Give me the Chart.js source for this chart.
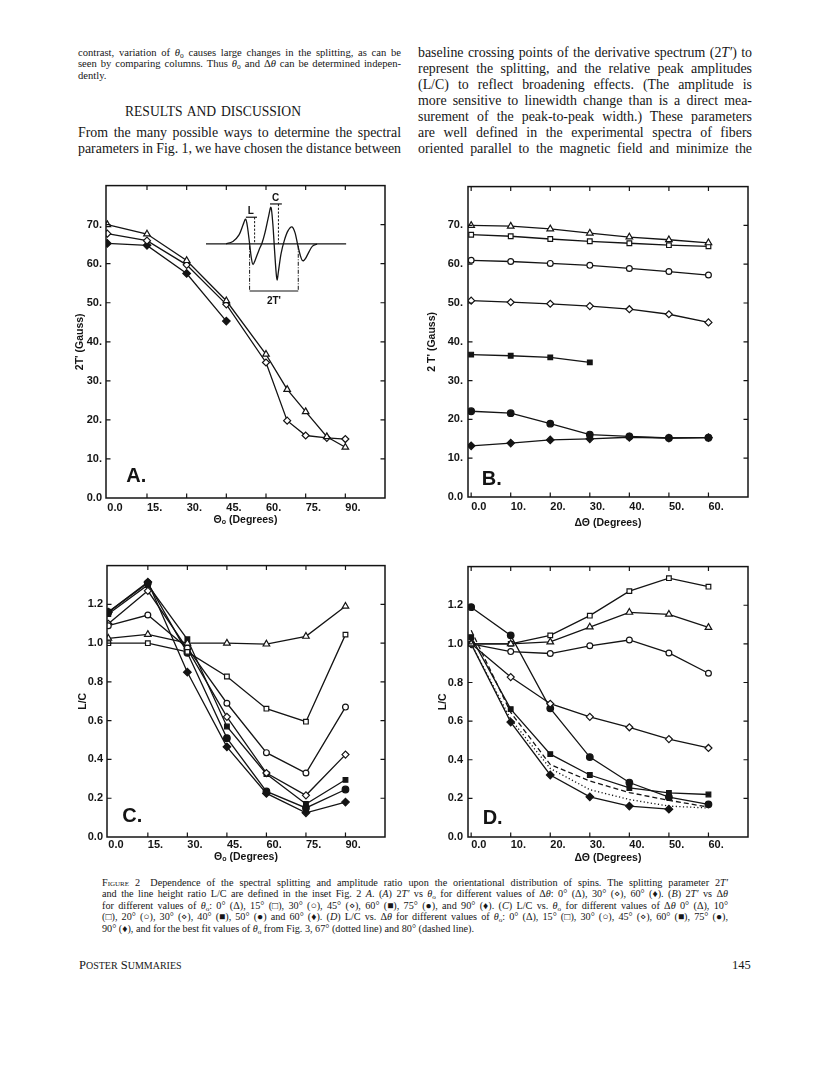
<!DOCTYPE html>
<html><head><meta charset="utf-8">
<script src="https://cdn.jsdelivr.net/npm/chart.js@4.4.1/dist/chart.umd.min.js"></script>
<style>
html,body{margin:0;padding:0;background:#fff}
body{width:816px;height:1070px;position:relative;overflow:hidden;color:#161616;font-family:"Liberation Serif","Times New Roman",serif}
.t{position:absolute;white-space:nowrap;line-height:1}
.t sub{font-size:0.7em;vertical-align:-0.25em;line-height:0}
canvas{position:absolute}
</style></head><body>

<!-- top text -->
<div class="t j" data-w="323" style="left:78px;top:47.5px;font-size:10.6px">contrast, variation of <i>θ</i><sub>o</sub> causes large changes in the splitting, as can be</div>
<div class="t j" data-w="323" style="left:78px;top:59.3px;font-size:10.6px">seen by comparing columns. Thus <i>θ</i><sub>o</sub> and Δ<i>θ</i> can be determined indepen-</div>
<div class="t" style="left:78px;top:71.1px;font-size:10.6px">dently.</div>
<div class="t j" data-w="176" style="left:125px;top:104.5px;font-size:13.6px">RESULTS AND DISCUSSION</div>
<div class="t j" data-w="323" style="left:78px;top:125.8px;font-size:13.9px">From the many possible ways to determine the spectral</div>
<div class="t j" data-w="323" style="left:78px;top:141.9px;font-size:13.9px">parameters in Fig. 1, we have chosen the distance between</div>

<div class="t j" data-w="334" style="left:418px;top:45.6px;font-size:13.9px">baseline crossing points of the derivative spectrum (2<i>T′</i>) to</div>
<div class="t j" data-w="334" style="left:418px;top:61.7px;font-size:13.9px">represent the splitting, and the relative peak amplitudes</div>
<div class="t j" data-w="334" style="left:418px;top:77.8px;font-size:13.9px">(L/C) to reflect broadening effects. (The amplitude is</div>
<div class="t j" data-w="334" style="left:418px;top:93.9px;font-size:13.9px">more sensitive to linewidth change than is a direct mea-</div>
<div class="t j" data-w="334" style="left:418px;top:110.0px;font-size:13.9px">surement of the peak-to-peak width.) These parameters</div>
<div class="t j" data-w="334" style="left:418px;top:126.1px;font-size:13.9px">are well defined in the experimental spectra of fibers</div>
<div class="t j" data-w="334" style="left:418px;top:142.2px;font-size:13.9px">oriented parallel to the magnetic field and minimize the</div>

<canvas id="cA"></canvas>
<canvas id="cB"></canvas>
<canvas id="cC"></canvas>
<canvas id="cD"></canvas>

<!-- caption -->
<div class="t j" data-w="626" style="left:102px;top:877.5px;font-size:10.2px"><span style="font-variant:small-caps">Figure 2</span>&emsp;Dependence of the spectral splitting and amplitude ratio upon the orientational distribution of spins. The splitting parameter 2<i>T′</i></div>
<div class="t j" data-w="626" style="left:102px;top:889px;font-size:10.2px">and the line height ratio L/C are defined in the inset Fig. 2 <i>A</i>. (<i>A</i>) 2<i>T′</i> vs <i>θ</i><sub>o</sub> for different values of Δ<i>θ</i>: 0° (Δ), 30° (⋄), 60° (♦). (<i>B</i>) 2<i>T′</i> vs Δ<i>θ</i></div>
<div class="t j" data-w="626" style="left:102px;top:900.5px;font-size:10.2px">for different values of <i>θ</i><sub>o</sub>: 0° (Δ), 15° (□), 30° (○), 45° (⋄), 60° (■), 75° (●), and 90° (♦). (<i>C</i>) L/C vs. <i>θ</i><sub>o</sub> for different values of Δ<i>θ</i> 0° (Δ), 10°</div>
<div class="t j" data-w="626" style="left:102px;top:912px;font-size:10.2px">(□), 20° (○), 30° (⋄), 40° (■), 50° (●) and 60° (♦). (<i>D</i>) L/C vs. Δ<i>θ</i> for different values of <i>θ</i><sub>o</sub>: 0° (Δ), 15° (□), 30° (○), 45° (⋄), 60° (■), 75° (●),</div>
<div class="t" style="left:102px;top:923.5px;font-size:10.2px">90° (♦), and for the best fit values of <i>θ</i><sub>o</sub> from Fig. 3, 67° (dotted line) and 80° (dashed line).</div>

<div class="t" style="left:79px;top:959px;font-size:12.5px">P<span style="font-size:10px">OSTER</span> S<span style="font-size:10px">UMMARIES</span></div>
<div class="t" style="left:732px;top:959px;font-size:12.5px">145</div>

<script>
// ---------------- DATA ----------------
// Panel A: 2T' vs theta0, for delta-theta = 0, 30, 60 deg
const thetaA = [0, 15, 30, 45, 60, 68, 75, 83, 90];
const A_dth0 = [70.0, 67.6, 60.8, 50.5, 36.8, 27.8, 22.1, 15.7, 13.0];
const A_dth30 = [67.7, 65.9, 59.7, 49.6, 34.7, 19.8, 16.0, 15.4, 15.1];
const thetaA60 = [0, 15, 30, 45];
const A_dth60 = [65.2, 64.7, 57.5, 45.3];

// Panel B: 2T' vs delta-theta, for theta0 = 0..90
const dthB = [0, 10, 20, 30, 40, 50, 60];
const dthB60 = [0, 10, 20, 30];
const B_th0 = [70.0, 69.8, 69.1, 68.0, 67.0, 66.3, 65.5];
const B_th15 = [67.6, 67.2, 66.5, 65.9, 65.4, 64.9, 64.6];
const B_th30 = [61.0, 60.7, 60.2, 59.7, 58.9, 58.1, 57.2];
const B_th45 = [50.6, 50.2, 49.8, 49.2, 48.4, 47.1, 45.0];
const B_th60 = [36.7, 36.4, 36.0, 34.7];
const B_th75 = [22.1, 21.6, 18.9, 16.1, 15.6, 15.2, 15.3];
const B_th90 = [13.2, 13.9, 14.7, 15.0, 15.4, 15.2, 15.3];

// Panel C: L/C vs theta0, for delta-theta = 0..60
const thetaC = [0, 15, 30, 45, 60, 75, 90];
const C_dth0 = [1.025, 1.045, 1.0, 1.0, 0.995, 1.035, 1.19];
const C_dth10 = [1.0, 1.0, 0.955, 0.828, 0.662, 0.595, 1.044];
const C_dth20 = [1.09, 1.145, 0.975, 0.69, 0.435, 0.33, 0.67];
const C_dth30 = [1.10, 1.27, 0.97, 0.62, 0.33, 0.215, 0.425];
const C_dth40 = [1.15, 1.30, 1.02, 0.57, 0.325, 0.17, 0.295];
const C_dth50 = [1.16, 1.31, 0.95, 0.51, 0.235, 0.15, 0.245];
const C_dth60 = [1.16, 1.315, 0.85, 0.465, 0.225, 0.125, 0.18];

// Panel D: L/C vs delta-theta, for theta0 = 0..90 and best fits 67 (dotted), 80 (dashed)
const dthD = [0, 10, 20, 30, 40, 50, 60];
const dthD90 = [0, 10, 20, 30, 40, 50];
const D_th0 = [1.0, 1.0, 1.01, 1.087, 1.163, 1.153, 1.085];
const D_th15 = [1.0, 1.0, 1.044, 1.146, 1.273, 1.34, 1.296];
const D_th30 = [1.0, 0.96, 0.95, 0.99, 1.02, 0.953, 0.848];
const D_th45 = [1.0, 0.828, 0.69, 0.622, 0.568, 0.507, 0.461];
const D_th60 = [1.035, 0.662, 0.429, 0.321, 0.254, 0.228, 0.22];
const D_th75 = [1.19, 1.044, 0.666, 0.414, 0.282, 0.206, 0.169];
const D_th90 = [1.0, 0.595, 0.321, 0.208, 0.16, 0.144];
const D_fit67 = [1.0, 0.61, 0.355, 0.245, 0.194, 0.16, 0.15];
const D_fit80 = [1.07, 0.645, 0.375, 0.29, 0.23, 0.19, 0.155];

// Tick values and labels
const thetaTicks = [0, 15, 30, 45, 60, 75, 90];
const thetaLabels = ['0.0', '15.', '30.', '45.', '60.', '75.', '90.'];
const dthTicks = [0, 10, 20, 30, 40, 50, 60];
const dthLabels = ['0.0', '10.', '20.', '30.', '40.', '50.', '60.'];
const gaussTicks = [0, 10, 20, 30, 40, 50, 60, 70];
const gaussLabels = ['0.0', '10.', '20.', '30.', '40.', '50.', '60.', '70.'];
const lcTicks = [0, 0.2, 0.4, 0.6, 0.8, 1.0, 1.2];
const lcLabels = ['0.0', '0.2', '0.4', '0.6', '0.8', '1.0', '1.2'];

// Inset of panel A: schematic derivative spectrum, in the panel's own (theta, gauss) units
const insetX = [44.9, 47.5, 49.8, 51.3, 52.3, 53.0, 53.8, 54.5, 55.1, 56.0, 57.4, 58.5, 59.6, 61.0, 61.9, 62.6, 63.2, 63.8, 64.2, 64.7, 65.7, 67.0, 68.3, 69.8, 71.0, 71.9, 72.9, 73.8, 74.9, 76.3, 77.6, 79.3];
const insetY = [65.1, 65.7, 67.4, 69.9, 71.4, 69.4, 65.1, 61.3, 59.8, 61.1, 63.6, 65.3, 67.9, 72.2, 74.4, 70.1, 63.8, 58.0, 55.8, 58.0, 62.6, 66.1, 68.4, 69.4, 67.9, 65.1, 62.3, 60.8, 61.3, 63.1, 64.5, 65.0];

// ---------------- STYLE ----------------
const INK = '#141414';
const SANS = '"Liberation Sans", Arial, sans-serif';
Chart.defaults.font.family = SANS;
Chart.defaults.color = INK;
const MK = {
  triO: {s: 'triangle', r: 3.8, f: false},
  sqO: {s: 'rect', r: 3.3, f: false},
  ciO: {s: 'circle', r: 2.9, f: false},
  diO: {s: 'rectRot', r: 3.5, f: false},
  sqF: {s: 'rect', r: 3.3, f: true},
  ciF: {s: 'circle', r: 3.3, f: true},
  diF: {s: 'rectRot', r: 3.8, f: true}
};
function series(xs, ys, mk, dash) {
  const m = mk ? MK[mk] : null;
  return {
    data: xs.map((x, i) => ({x: x, y: ys[i]})),
    borderColor: INK, borderWidth: 1.3, borderDash: dash || [],
    pointStyle: m ? m.s : false, pointRadius: m ? m.r : 0, pointHoverRadius: 0,
    pointBorderWidth: 1.2, pointBorderColor: INK,
    pointBackgroundColor: m && m.f ? INK : '#fff',
    tension: 0, fill: false
  };
}

const frame = {
  id: 'frame',
  afterDraw(chart, args, opt) {
    const {ctx, chartArea: a, scales: {x, y}} = chart;
    const len = 4.5;
    ctx.save();
    ctx.strokeStyle = INK; ctx.lineWidth = 1.5;
    ctx.strokeRect(a.left, a.top, a.right - a.left, a.bottom - a.top);
    ctx.lineWidth = 1.2;
    ctx.beginPath();
    x.ticks.forEach(t => {
      const px = x.getPixelForValue(t.value);
      if (px <= a.left + 2 || px >= a.right - 2) return;
      ctx.moveTo(px, a.bottom); ctx.lineTo(px, a.bottom - len);
      ctx.moveTo(px, a.top); ctx.lineTo(px, a.top + len);
    });
    y.ticks.forEach(t => {
      const py = y.getPixelForValue(t.value);
      if (py <= a.top + 2 || py >= a.bottom - 2) return;
      ctx.moveTo(a.left, py); ctx.lineTo(a.left + len, py);
      ctx.moveTo(a.right, py); ctx.lineTo(a.right - len, py);
    });
    ctx.stroke();
    // panel letter
    if (opt && opt.letter) {
      ctx.fillStyle = INK; ctx.font = 'bold 20px ' + SANS;
      ctx.textAlign = 'left'; ctx.textBaseline = 'alphabetic';
      ctx.fillText(opt.letter, x.getPixelForValue(opt.lx), y.getPixelForValue(opt.ly));
    }
    ctx.restore();
  }
};

const insetPlugin = {
  id: 'inset',
  afterDatasetsDraw(chart) {
    const {ctx, scales: {x, y}} = chart;
    const X = v => x.getPixelForValue(v), Y = v => y.getPixelForValue(v);
    const pts = insetX.map((v, i) => [X(v), Y(insetY[i])]);
    ctx.save();
    ctx.strokeStyle = INK; ctx.fillStyle = INK; ctx.lineWidth = 1.3;
    const base = Y(65.1);
    ctx.beginPath(); ctx.moveTo(X(37.3), base); ctx.lineTo(X(90.3), base); ctx.stroke();
    ctx.beginPath(); ctx.moveTo(pts[0][0], pts[0][1]);
    for (let i = 0; i < pts.length - 1; i++) {
      const p0 = pts[Math.max(0, i - 1)], p1 = pts[i], p2 = pts[i + 1], p3 = pts[Math.min(pts.length - 1, i + 2)];
      ctx.bezierCurveTo(p1[0] + (p2[0] - p0[0]) / 6, p1[1] + (p2[1] - p0[1]) / 6,
                        p2[0] - (p3[0] - p1[0]) / 6, p2[1] - (p3[1] - p1[1]) / 6, p2[0], p2[1]);
    }
    ctx.stroke();
    const line = (x1, y1, x2, y2, dash, w) => { ctx.setLineDash(dash || []); ctx.lineWidth = w || 1.2; ctx.beginPath(); ctx.moveTo(x1, y1); ctx.lineTo(x2, y2); ctx.stroke(); };
    const lBar = Y(71.9), cBar = Y(75.3), brk = Y(53.0);
    line(X(52.4), lBar, X(56.6), lBar);
    line(X(55.7), lBar, X(55.7), base, [2.2, 1.6], 1);
    line(X(61.5), cBar, X(66.0), cBar);
    line(X(64.7), cBar, X(64.7), base, [2.2, 1.6], 1);
    line(X(53.8), base + 2, X(53.8), brk, [4, 1.5, 1, 1.5], 1);
    line(X(72.2), base + 2, X(72.2), brk, [4, 1.5, 1, 1.5], 1);
    line(X(53.8), brk, X(72.2), brk, [], 1.1);
    ctx.setLineDash([]);
    ctx.font = 'bold 10px ' + SANS; ctx.textAlign = 'center'; ctx.textBaseline = 'alphabetic';
    ctx.fillText('L', X(54.3), lBar - 3);
    ctx.fillText('C', X(63.6), cBar - 3);
    ctx.fillText("2T'", X(63.0), brk + 13);
    ctx.restore();
  }
};

function panel(id, P, X, Y, datasets, extra) {
  const L = P.L, T = 6, R = 6, B = P.B;
  const cv = document.getElementById(id);
  const W = P.r - P.l + L + R, H = P.b - P.t + T + B;
  cv.width = W; cv.height = H;
  cv.style.left = (P.l - L) + 'px'; cv.style.top = (P.t - T) + 'px';
  cv.style.width = W + 'px'; cv.style.height = H + 'px';
  const lh = 10.5 * 1.2;
  const tfont = {size: 10.5, weight: 'bold', lineHeight: 1.2};
  const kfont = {size: 11, weight: 'bold'};
  new Chart(cv, {
    type: 'line',
    data: {datasets: datasets},
    options: {
      responsive: false, animation: false, devicePixelRatio: 1,
      layout: {padding: {top: T, right: R, left: 0, bottom: 0}},
      plugins: {legend: {display: false}, tooltip: {enabled: false}, frame: {letter: P.letter, lx: P.lx, ly: P.ly}},
      scales: {
        x: {
          type: 'linear', min: X.min, max: X.max,
          grid: {display: false, drawTicks: false}, border: {display: false},
          afterBuildTicks: s => { s.ticks = X.ticks.map(v => ({value: v})); },
          afterFit: s => { s.height = B; },
          ticks: {callback: (v, i) => X.labels[i], align: 'start', padding: P.xpad, color: INK, font: kfont, maxRotation: 0, autoSkip: false},
          title: {display: true, text: X.title, color: INK, font: tfont, padding: {top: 0, bottom: B - (P.xty - P.b) - lh / 2}}
        },
        y: {
          type: 'linear', min: Y.min, max: Y.max,
          grid: {display: false, drawTicks: false}, border: {display: false},
          afterBuildTicks: s => { s.ticks = Y.ticks.map(v => ({value: v})); },
          afterFit: s => { s.width = L; },
          ticks: {callback: (v, i) => Y.labels[i], padding: P.ypad, color: INK, font: kfont, autoSkip: false},
          title: {display: true, text: Y.title, color: INK, font: tfont, padding: {top: (P.ytx - (P.l - L)) - lh / 2, bottom: 0}}
        }
      }
    },
    plugins: [frame].concat(extra || [])
  });
}

const XTH = {min: -0.5, max: 105, ticks: thetaTicks, labels: thetaLabels, title: 'Θₒ (Degrees)'};
const XDT = {min: -0.8, max: 70, ticks: dthTicks, labels: dthLabels, title: 'ΔΘ (Degrees)'};

panel('cA', {l: 106, t: 181, r: 385, b: 498, L: 52, B: 36, ytx: 80.5, xty: 520, xpad: 3.5, ypad: 4, letter: 'A.', lx: 7.2, ly: 4.2},
  XTH, {min: 0, max: 80, ticks: gaussTicks, labels: gaussLabels, title: "2T' (Gauss)"},
  [series(thetaA, A_dth0, 'triO'), series(thetaA, A_dth30, 'diO'), series(thetaA60, A_dth60, 'diF')], [insetPlugin]);

panel('cB', {l: 468, t: 181, r: 748, b: 497, L: 52, B: 36, ytx: 431.7, xty: 523.5, xpad: 3.5, ypad: 5, letter: 'B.', lx: 2.7, ly: 3.1},
  XDT, {min: 0, max: 80, ticks: gaussTicks, labels: gaussLabels, title: "2 T' (Gauss)"},
  [series(dthB, B_th0, 'triO'), series(dthB, B_th15, 'sqO'), series(dthB, B_th30, 'ciO'),
   series(dthB, B_th45, 'diO'), series(dthB60, B_th60, 'sqF'), series(dthB, B_th75, 'ciF'), series(dthB, B_th90, 'diF')]);

panel('cC', {l: 107, t: 561, r: 385, b: 837, L: 52, B: 34, ytx: 83.3, xty: 857, xpad: 1.5, ypad: 4, letter: 'C.', lx: 5.3, ly: 0.076},
  XTH, {min: 0, max: 1.4, ticks: lcTicks, labels: lcLabels, title: 'L/C'},
  [series(thetaC, C_dth0, 'triO'), series(thetaC, C_dth10, 'sqO'), series(thetaC, C_dth20, 'ciO'),
   series(thetaC, C_dth30, 'diO'), series(thetaC, C_dth40, 'sqF'), series(thetaC, C_dth50, 'ciF'), series(thetaC, C_dth60, 'diF')]);

panel('cD', {l: 468, t: 561, r: 748, b: 837, L: 52, B: 34, ytx: 443.3, xty: 858.5, xpad: 1.5, ypad: 5, letter: 'D.', lx: 2.9, ly: 0.068},
  XDT, {min: 0, max: 1.4, ticks: lcTicks, labels: lcLabels, title: 'L/C'},
  [series(dthD, D_th0, 'triO'), series(dthD, D_th15, 'sqO'), series(dthD, D_th30, 'ciO'),
   series(dthD, D_th45, 'diO'), series(dthD, D_th60, 'sqF'), series(dthD, D_th75, 'ciF'), series(dthD90, D_th90, 'diF'),
   series(dthD, D_fit67, null, [1.2, 2.4]), series(dthD, D_fit80, null, [5, 3])]);

// ---------------- justify text lines ----------------
document.querySelectorAll('.j').forEach(e => {
  const target = +e.dataset.w;
  e.style.wordSpacing = '0px'; e.style.letterSpacing = '0px';
  const nat = e.getBoundingClientRect().width;
  const txt = e.textContent;
  const spaces = (txt.match(/ /g) || []).length;
  let ws = (target - nat) / Math.max(1, spaces);
  if (ws < -1.2) {
    const ls = (target - nat + 1.2 * spaces) / txt.length;
    e.style.letterSpacing = ls + 'px';
    ws = -1.2;
  }
  e.style.wordSpacing = ws + 'px';
});
</script>
</body></html>
